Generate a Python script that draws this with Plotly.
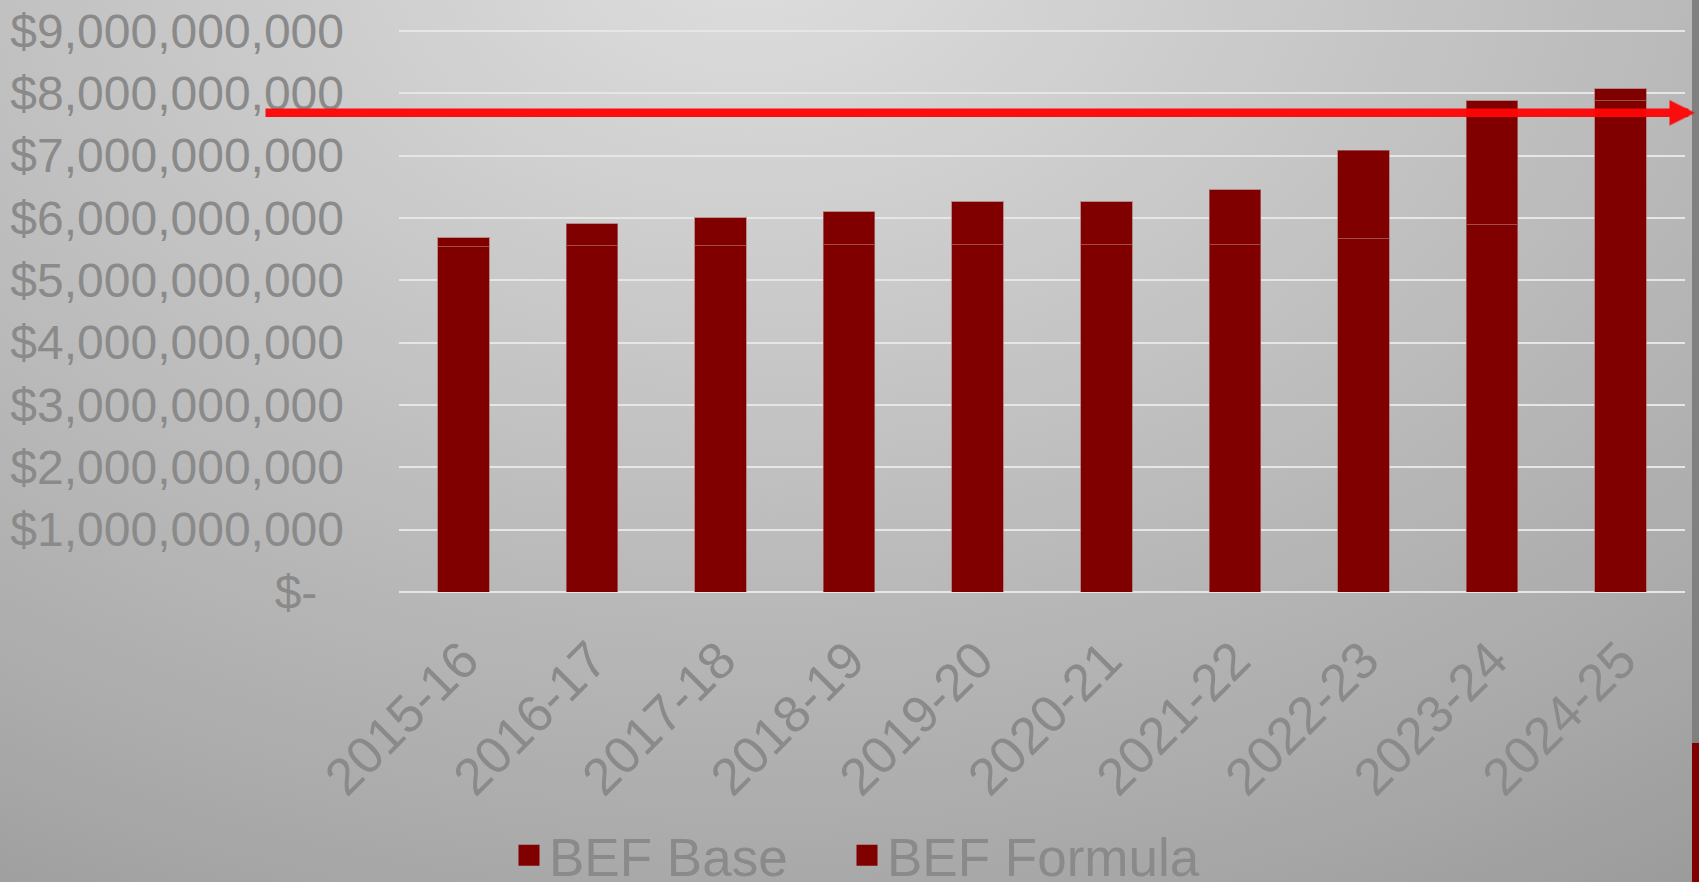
import base64
import plotly.graph_objects as go

# ---- data ----
years = ["2015-16", "2016-17", "2017-18", "2018-19", "2019-20",
         "2020-21", "2021-22", "2022-23", "2023-24", "2024-25"]
bef_base = [5.535e9, 5.551e9, 5.551e9, 5.572e9, 5.572e9,
            5.572e9, 5.567e9, 5.668e9, 5.893e9, 7.877e9]
bef_formula = [0.149e9, 0.353e9, 0.449e9, 0.525e9, 0.685e9,
               0.685e9, 0.887e9, 1.417e9, 1.984e9, 0.198e9]
y_tick_values = [0, 1e9, 2e9, 3e9, 4e9, 5e9, 6e9, 7e9, 8e9, 9e9]
y_tick_labels = ["$-\u00a0\u00a0", "$1,000,000,000", "$2,000,000,000", "$3,000,000,000",
                 "$4,000,000,000", "$5,000,000,000", "$6,000,000,000",
                 "$7,000,000,000", "$8,000,000,000", "$9,000,000,000"]
arrow_level = 7.685e9

# ---- style ----
W, H = 1699, 882
ML, MR, MT, MB = 399, 14, 29, 290
DARK_RED = "#800000"
TEXT_GRAY = "#8a8a8a"
FONT = "Liberation Sans, Arial, sans-serif"

svg = f"""<svg xmlns='http://www.w3.org/2000/svg' width='{W}' height='{H}' viewBox='0 0 {W} {H}' preserveAspectRatio='none'>
<defs><radialGradient id='g' gradientUnits='userSpaceOnUse' cx='750' cy='-50' r='1000'
 gradientTransform='translate(750,-50) scale(1.9,1.3) translate(-750,50)'>
<stop offset='0' stop-color='#dedede'/><stop offset='0.7' stop-color='#aaaaaa'/><stop offset='1' stop-color='#909090'/>
</radialGradient></defs>
<rect width='{W}' height='{H}' fill='url(#g)'/>
<rect x='1692' y='0' width='7' height='743' fill='#808080'/>
<rect x='1692' y='743' width='7' height='139' fill='#800000'/>
</svg>"""
bg_uri = "data:image/svg+xml;base64," + base64.b64encode(svg.encode()).decode()

pw = W - ML - MR
ph = H - MT - MB

fig = go.Figure()
bar_line = dict(color="rgba(175,110,110,0.7)", width=1)
fig.add_trace(go.Bar(name="BEF Base", x=years, y=bef_base, width=0.4,
                     marker=dict(color=DARK_RED, line=bar_line),
                     showlegend=False, legendgroup="base"))
fig.add_trace(go.Bar(name="BEF Formula", x=years, y=bef_formula, width=0.4,
                     marker=dict(color=DARK_RED, line=bar_line),
                     showlegend=False, legendgroup="formula"))
for nm, grp, lg in [("BEF Base", "base", "legend"), ("BEF Formula", "formula", "legend2")]:
    fig.add_trace(go.Scatter(name=nm, x=[None], y=[None], mode="markers",
                             legendgroup=grp, legend=lg,
                             marker=dict(symbol="square", size=16, color=DARK_RED,
                                         line=dict(color=DARK_RED, width=5))))

legend_common = dict(orientation="h", xanchor="left", y=-0.395, yanchor="top",
                     font=dict(size=53, color=TEXT_GRAY, family=FONT),
                     bgcolor="rgba(0,0,0,0)", borderwidth=0)

fig.update_layout(
    width=W, height=H,
    margin=dict(l=ML, r=MR, t=MT, b=MB, pad=0, autoexpand=False),
    barmode="stack",
    paper_bgcolor="#bcbcbc",
    plot_bgcolor="rgba(0,0,0,0)",
    font=dict(family=FONT, color=TEXT_GRAY),
    images=[dict(source=bg_uri, xref="paper", yref="paper",
                 x=-ML / pw, y=1 + MT / ph, sizex=W / pw, sizey=H / ph,
                 sizing="stretch", layer="below", xanchor="left", yanchor="top")],
    xaxis=dict(showgrid=False, showline=False, zeroline=False, ticks="",
               automargin=False, tickangle=-45,
               tickfont=dict(size=52, color=TEXT_GRAY, family=FONT),
               ticklabelstandoff=26),
    yaxis=dict(range=[0, 9.03e9], tickvals=y_tick_values, ticktext=y_tick_labels,
               automargin=False,
               showgrid=True, gridcolor="#e6e6e6", gridwidth=2,
               zeroline=True, zerolinecolor="#e6e6e6", zerolinewidth=2,
               showline=False, ticks="", ticklabelstandoff=54,
               tickfont=dict(size=48, color=TEXT_GRAY, family=FONT)),
    legend=dict(x=(509 - ML) / pw, **legend_common),
    legend2=dict(x=(847 - ML) / pw, **legend_common),
    annotations=[dict(x=(1695 - ML) / pw, xref="paper", y=arrow_level, yref="y",
                      ax=-1431, ay=0, axref="pixel", ayref="pixel", text="",
                      showarrow=True, arrowhead=2, arrowsize=0.6, arrowwidth=8.5,
                      arrowcolor="rgba(255,6,6,0.96)", standoff=0, startstandoff=0)],
)

fig.write_html("out.html", config={"displayModeBar": False},
               post_script="document.body.style.margin='0px';")
